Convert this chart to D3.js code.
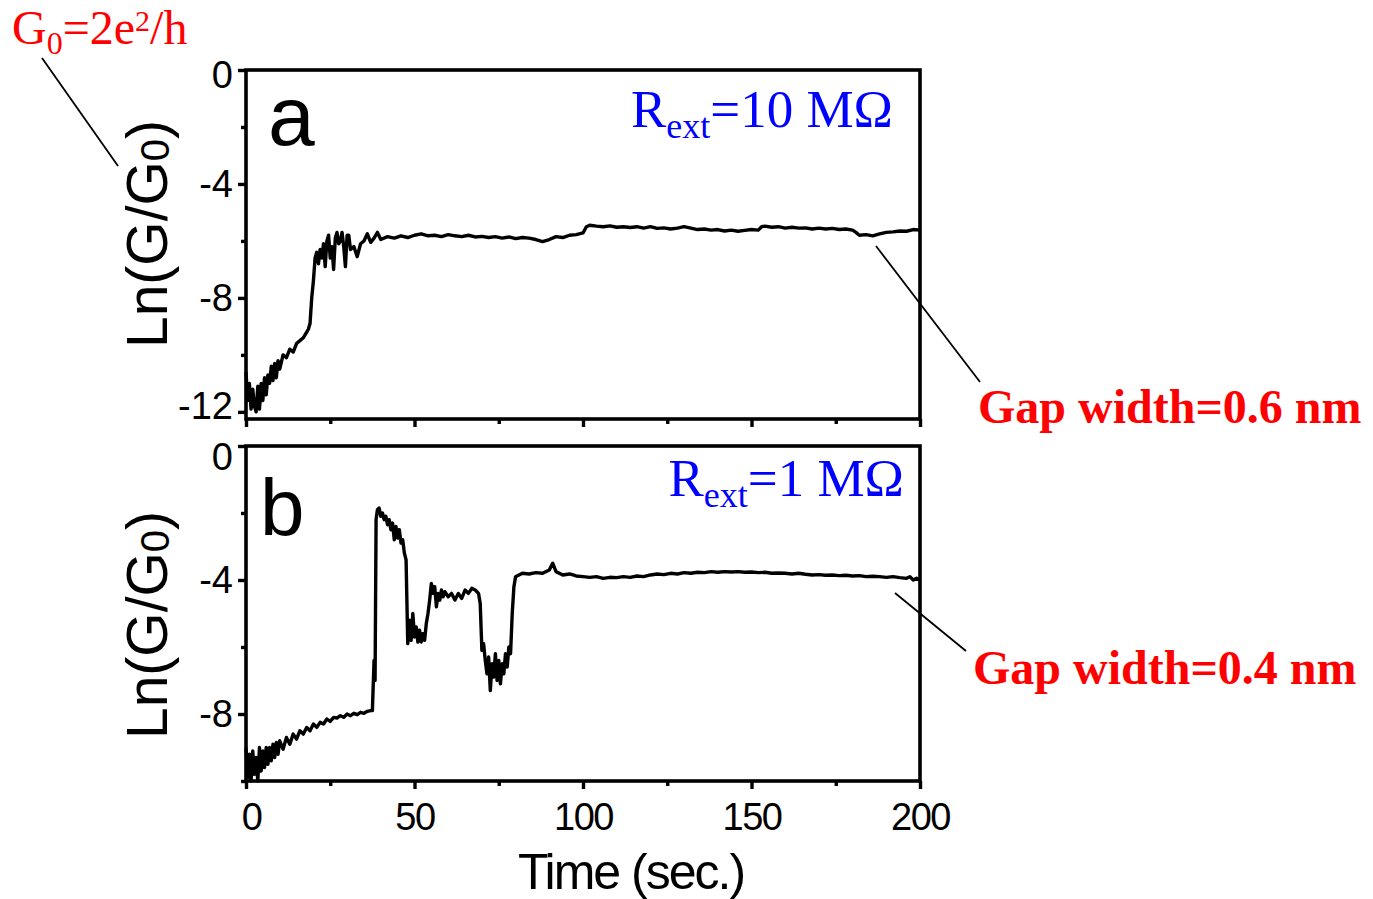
<!DOCTYPE html>
<html><head><meta charset="utf-8">
<script src="https://cdn.jsdelivr.net/npm/d3@7"></script>
<style>body{margin:0;background:#fff}</style>
</head><body>
<script>
// ---- data ----
const timeA = [0,0.5,1,1.5,2,2.5,3,3.5,4,4.5,5,5.5,6,6.5,7,7.5,8,8.5,9,9.5,10,11,12,13,14,15,16,17,18,18.5,19,19.5,20,20.5,21,21.5,22,22.5,23,23.5,24,24.5,25,25.5,26,26.5,27,27.5,28,28.5,29,29.5,30,30.5,31,32,33,34,35,36,37,38,39,40,42,44,46,48,50,52,54,56,58,60,62,64,66,68,70,72,74,76,78,80,82,84,86,88,90,92,94,96,98,100,101,102,104,106,108,110,112,114,116,118,120,122,124,126,128,130,132,134,136,138,140,142,144,146,148,150,152,153,154,156,158,160,162,164,166,168,170,172,174,176,178,180,181,182,184,186,188,190,192,194,196,198,200];
const lnGA = [-10.6,-11.6,-11.0,-11.9,-11.2,-11.8,-12.0,-11.1,-11.9,-11.0,-11.6,-10.8,-11.4,-10.7,-11.0,-10.4,-10.9,-10.3,-10.8,-10.2,-10.5,-10.0,-10.1,-9.8,-9.9,-9.6,-9.5,-9.4,-9.2,-9.1,-8.9,-8.0,-7.4,-6.6,-6.4,-6.8,-6.3,-6.6,-6.1,-6.9,-6.0,-5.8,-6.6,-6.2,-7.0,-5.9,-5.7,-6.1,-6.0,-5.7,-6.2,-6.9,-5.8,-5.8,-6.3,-6.2,-6.55,-6.1,-6.0,-5.75,-6.05,-5.9,-5.7,-5.95,-5.85,-5.9,-5.82,-5.88,-5.8,-5.75,-5.82,-5.8,-5.85,-5.78,-5.82,-5.85,-5.8,-5.86,-5.84,-5.88,-5.85,-5.9,-5.86,-5.92,-5.88,-5.9,-5.95,-6.02,-5.95,-5.85,-5.88,-5.8,-5.78,-5.72,-5.5,-5.45,-5.48,-5.5,-5.47,-5.52,-5.5,-5.53,-5.5,-5.55,-5.5,-5.56,-5.54,-5.58,-5.55,-5.5,-5.55,-5.6,-5.58,-5.62,-5.6,-5.65,-5.62,-5.66,-5.63,-5.6,-5.62,-5.5,-5.48,-5.52,-5.5,-5.55,-5.52,-5.55,-5.54,-5.58,-5.55,-5.58,-5.56,-5.6,-5.58,-5.62,-5.7,-5.8,-5.78,-5.82,-5.75,-5.7,-5.68,-5.65,-5.66,-5.6,-5.62];
const timeB = [0,0.5,1,1.5,2,2.5,3,3.5,4,4.5,5,5.5,6,6.5,7,7.5,8,8.5,9,9.5,10,11,12,13,14,15,16,17,18,19,20,21,22,23,24,25,26,27,28,29,30,31,32,33,34,35,36,37,37.5,38,38.3,38.6,39,39.5,40,40.5,41,41.5,42,42.5,43,43.5,44,44.5,45,45.5,46,46.5,47,47.5,48,48.5,49,49.5,50,50.5,51,51.5,52,52.5,53,53.5,54,54.5,55,55.5,56,56.5,57,57.5,58,58.5,59,60,61,62,63,64,65,66,67,68,69,69.5,70,70.5,71,71.5,72,72.5,73,73.5,74,74.5,75,75.5,76,76.5,77,77.5,78,78.5,79,79.5,80,81,82,84,86,88,90,91,92,94,96,98,100,102,104,106,108,110,112,114,116,118,120,122,124,126,128,130,132,134,136,138,140,142,144,146,148,150,152,154,156,158,160,162,164,166,168,170,172,174,176,178,180,182,184,186,188,190,192,194,196,197,198,199,200];
const lnGB = [-9.0,-9.9,-9.2,-10.0,-9.1,-9.8,-9.3,-10.0,-9.0,-9.7,-9.1,-9.6,-9.0,-9.5,-9.0,-9.4,-8.9,-9.3,-8.85,-9.2,-8.8,-9.05,-8.7,-8.9,-8.6,-8.75,-8.5,-8.6,-8.4,-8.5,-8.3,-8.4,-8.25,-8.3,-8.15,-8.22,-8.1,-8.12,-8.05,-8.1,-8.0,-8.05,-7.98,-8.02,-7.95,-7.98,-7.92,-7.9,-7.9,-6.4,-7.0,-2.2,-1.9,-1.85,-2.1,-2.0,-2.2,-2.1,-2.35,-2.2,-2.5,-2.3,-2.8,-2.4,-2.75,-2.5,-2.9,-2.8,-3.2,-3.4,-5.9,-5.2,-5.8,-5.0,-5.7,-5.4,-5.85,-5.5,-5.85,-5.6,-5.8,-5.3,-5.0,-4.6,-4.1,-4.4,-4.2,-4.8,-4.4,-4.6,-4.3,-4.5,-4.35,-4.5,-4.4,-4.6,-4.4,-4.55,-4.3,-4.4,-4.25,-4.3,-4.4,-4.7,-6.1,-5.9,-6.4,-6.8,-6.3,-7.3,-6.5,-6.9,-6.2,-7.0,-6.4,-7.1,-6.5,-6.8,-6.2,-6.6,-6.0,-6.2,-5.0,-4.2,-3.9,-3.85,-3.8,-3.82,-3.78,-3.8,-3.7,-3.5,-3.75,-3.85,-3.82,-3.88,-3.9,-3.92,-3.9,-3.95,-3.92,-3.93,-3.9,-3.92,-3.88,-3.9,-3.85,-3.82,-3.84,-3.8,-3.82,-3.78,-3.8,-3.77,-3.78,-3.75,-3.77,-3.75,-3.76,-3.75,-3.77,-3.76,-3.78,-3.77,-3.8,-3.79,-3.8,-3.82,-3.8,-3.83,-3.85,-3.84,-3.86,-3.85,-3.87,-3.86,-3.88,-3.87,-3.9,-3.89,-3.9,-3.92,-3.9,-3.93,-3.95,-3.9,-4.0,-3.95,-4.0];
const xTicks = [0,50,100,150,200];
const xMinor = [25,75,125,175];
const yTicksA = [0,-4,-8,-12];
const yMinorA = [-2,-6,-10];
const yTicksB = [0,-4,-8];
const yMinorB = [-2,-6,-10];

const W = 1373, H = 899;
const SANS = "'Liberation Sans', Arial, sans-serif";
const SERIF = "'Liberation Serif', 'Times New Roman', serif";
const svg = d3.select("body").append("svg").attr("width", W).attr("height", H)
  .style("font-family", SANS);

const x = d3.scaleLinear().domain([0, 200]).range([246, 920]);
const yA = d3.scaleLinear().domain([-12.25, 0]).range([419, 70]);
const yB = d3.scaleLinear().domain([-10, 0]).range([781, 446]);

function nudgeA(d) { return d === 0 ? 5 : (d === -12 ? -6 : 0); }
function nudgeB(d) { return d === 0 ? 11 : 0; }

function panel(y, times, vals, majors, minors, showXLabels, nudge) {
  const g = svg.append("g");
  const [y0, y1] = y.range();
  const line = d3.line().x((d, i) => x(times[i])).y(d => y(d));
  g.append("path").datum(vals).attr("d", line).attr("fill", "none")
    .attr("stroke", "#000").attr("stroke-width", 3.4).attr("stroke-linejoin", "round");
  g.append("rect").attr("x", x(0)).attr("y", y1).attr("width", x(200) - x(0)).attr("height", y0 - y1)
    .attr("fill", "none").attr("stroke", "#000").attr("stroke-width", 3.6);
  const ay = g.append("g").attr("transform", `translate(${x(0)},0)`)
    .call(d3.axisLeft(y).tickValues(majors).tickSize(8).tickPadding(5).tickFormat(d => String(d)));
  ay.select(".domain").remove();
  ay.selectAll("line").attr("stroke-width", 3.4);
  ay.selectAll("text").attr("font-size", 38).attr("fill", "#000").attr("font-family", SANS)
    .attr("dy", "0.32em").attr("y", d => nudge(d));
  const ayMin = g.append("g").attr("transform", `translate(${x(0)},0)`)
    .call(d3.axisLeft(y).tickValues(minors).tickSize(5).tickFormat(""));
  ayMin.select(".domain").remove();
  ayMin.selectAll("line").attr("stroke-width", 3.4);
  const ax = g.append("g").attr("transform", `translate(0,${y0})`)
    .call(d3.axisBottom(x).tickValues(xTicks).tickSize(8).tickPadding(14).tickFormat(showXLabels ? (d => String(d)) : ""));
  ax.select(".domain").remove();
  ax.selectAll("line").attr("stroke-width", 3.4);
  ax.selectAll("text").attr("font-size", 38).attr("fill", "#000").attr("font-family", SANS)
    .attr("letter-spacing", -1.5).attr("dx", d => d === 0 ? 5 : 0);
  const axMin = g.append("g").attr("transform", `translate(0,${y0})`)
    .call(d3.axisBottom(x).tickValues(xMinor).tickSize(5).tickFormat(""));
  axMin.select(".domain").remove();
  axMin.selectAll("line").attr("stroke-width", 3.4);
  return g;
}

panel(yA, timeA, lnGA, yTicksA, yMinorA, false, nudgeA);
panel(yB, timeB, lnGB, yTicksB, yMinorB, true, nudgeB);

// y labels
function yLabel(cy) {
  const t = svg.append("text").attr("transform", `translate(167,${cy}) rotate(-90)`)
    .attr("text-anchor", "middle").attr("font-size", 57).attr("fill", "#000");
  t.append("tspan").text("Ln(G/G");
  t.append("tspan").attr("font-size", 40).attr("dy", 2).text("0");
  t.append("tspan").attr("dy", -2).text(")");
}
yLabel(234);
yLabel(625);

// x label
svg.append("text").attr("x", 631).attr("y", 889).attr("text-anchor", "middle")
  .attr("font-size", 50).attr("letter-spacing", -2).attr("fill", "#000").text("Time (sec.)");

// panel letters
svg.append("text").attr("x", 268).attr("y", 145).attr("font-size", 84).attr("fill", "#000").text("a");
svg.append("text").attr("x", 260).attr("y", 535).attr("font-size", 80).attr("fill", "#000").text("b");

// R_ext labels
function rext(xr, yb, val) {
  const t = svg.append("text").attr("x", xr).attr("y", yb).attr("text-anchor", "end")
    .attr("font-family", SERIF).attr("font-size", 53).attr("fill", "#0000ff");
  t.append("tspan").text("R");
  t.append("tspan").attr("font-size", 36).attr("dy", 11).text("ext");
  t.append("tspan").attr("dy", -11).text("=" + val + " M\u03A9");
}
rext(893, 127, "10");
rext(904, 496, "1");

// G0 annotation
const g0 = svg.append("text").attr("x", 12).attr("y", 44)
  .attr("font-family", SERIF).attr("font-size", 48).attr("fill", "#ff0000");
g0.append("tspan").text("G");
g0.append("tspan").attr("font-size", 32).attr("dy", 10).text("0");
g0.append("tspan").attr("dy", -10).text("=2e");
g0.append("tspan").attr("font-size", 30).attr("dy", -13).text("2");
g0.append("tspan").attr("dy", 13).text("/h");
svg.append("line").attr("x1", 42).attr("y1", 58).attr("x2", 118).attr("y2", 166)
  .attr("stroke", "#000").attr("stroke-width", 1.8);

// gap width annotations
function gap(xl, yb, txt, lx1, ly1, lx2, ly2) {
  svg.append("text").attr("x", xl).attr("y", yb)
    .attr("font-family", SERIF).attr("font-weight", "bold")
    .attr("font-size", 48).attr("fill", "#ff0000").text(txt);
  svg.append("line").attr("x1", lx1).attr("y1", ly1).attr("x2", lx2).attr("y2", ly2)
    .attr("stroke", "#000").attr("stroke-width", 1.8);
}
gap(978, 423, "Gap width=0.6 nm", 876, 246, 980, 382);
gap(973, 684, "Gap width=0.4 nm", 895, 593, 966, 651);
</script>
</body></html>
